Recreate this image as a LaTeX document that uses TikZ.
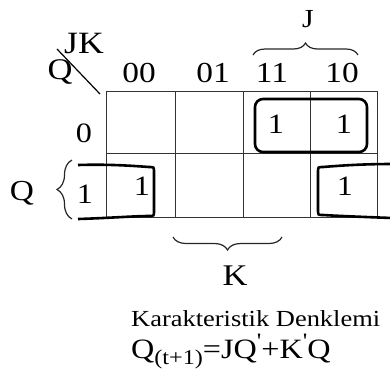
\documentclass[tikz,border=0pt]{standalone}
\usepackage{fontspec}
\setmainfont{Liberation Serif}[FakeStretch=1.15]
\newfontfamily\primefont{Liberation Serif}[FakeStretch=1.15,Ligatures=TeXOff]
\usetikzlibrary{decorations.pathreplacing}
\newcommand{\fsz}[1]{\fontsize{#1}{#1}\selectfont}
\begin{document}
\begin{tikzpicture}[x=1pt,y=-1pt,
  gridline/.style={draw=black!80, line width=0.9pt},
  grp/.style={draw=black, line width=2.6pt},
  lbl/.style={inner sep=0pt, anchor=base},
  brc/.style={decorate, decoration={brace, amplitude=#1}, draw=black!85, line width=1.2pt}]
\useasboundingbox (0,0) rectangle (390,376);
% grid
\draw[gridline] (106,91) rectangle (377,217);
\draw[gridline] (175,91) -- (175,217) (243,91) -- (243,217) (310,91) -- (310,217);
\draw[gridline] (106,153) -- (377,153);
% corner labels
\node[lbl,font=\fsz{31}] (jk) at (84,53) {JK};
\node[lbl,font=\fsz{30}] (qc) at (60,79) {Q};
\coordinate (d1) at (57,49);
\coordinate (d2) at (100,94);
\draw[line width=1.2pt] (d1) -- (d2);
% column labels
\node[lbl,font=\fsz{29}] (c00) at (139,82) {00};
\node[lbl,font=\fsz{29}] (c01) at (213,82) {01};
\node[lbl,font=\fsz{29}] (c11) at (272,82) {11};
\node[lbl,font=\fsz{29}] (c10) at (342,82) {10};
% row labels
\node[lbl,font=\fsz{28}] (r0) at (84,142) {0};
\node[lbl,font=\fsz{28}] (r1) at (85,203) {1};
% cell values
\node[lbl,font=\fsz{28}] (v011) at (276,133) {1};
\node[lbl,font=\fsz{28}] (v010) at (344,133) {1};
\node[lbl,font=\fsz{28}] (v100) at (142,195) {1};
\node[lbl,font=\fsz{28}] (v110) at (345,195) {1};
% groups
\draw[grp, rounded corners=8pt] (255,99) rectangle (367,152);
\draw[grp] (78,165) .. controls (110,164) and (135,166) .. (149,167)
  .. controls (154,167) .. (154,172) -- (154,211)
  .. controls (154,216) .. (149,216)
  .. controls (135,216) and (110,218) .. (78,219);
\draw[grp] (392,164) .. controls (360,164) and (335,166) .. (323,167)
  .. controls (318,167) .. (318,172) -- (318,210)
  .. controls (318,215) .. (323,215)
  .. controls (340,216) and (365,217) .. (392,218);
% braces
\draw[brc=12pt] (253,55) -- (358,55);
\node[lbl,font=\fsz{26}] (jl) at (308,27) {J};
\draw[brc=15pt] (72,219) -- (72,160);
\node[lbl,font=\fsz{29}] (ql) at (22,200) {Q};
\draw[brc=13pt] (282,237) -- (173,237);
\node[lbl,font=\fsz{30}] (kl) at (235,285) {K};
% equation
\node[anchor=base west, inner sep=0pt, font=\fsz{23}] (kd) at (131,326) {Karakteristik Denklemi};
\node[anchor=base west, inner sep=0pt, font=\fsz{28}] (eq) at (131,358)
  {Q\raisebox{-6pt}{\fsz{21}(t+1)}=JQ\raisebox{10pt}{\primefont\fsz{22}'}+K\raisebox{10pt}{\primefont\fsz{22}'}Q};
\end{tikzpicture}
\end{document}
